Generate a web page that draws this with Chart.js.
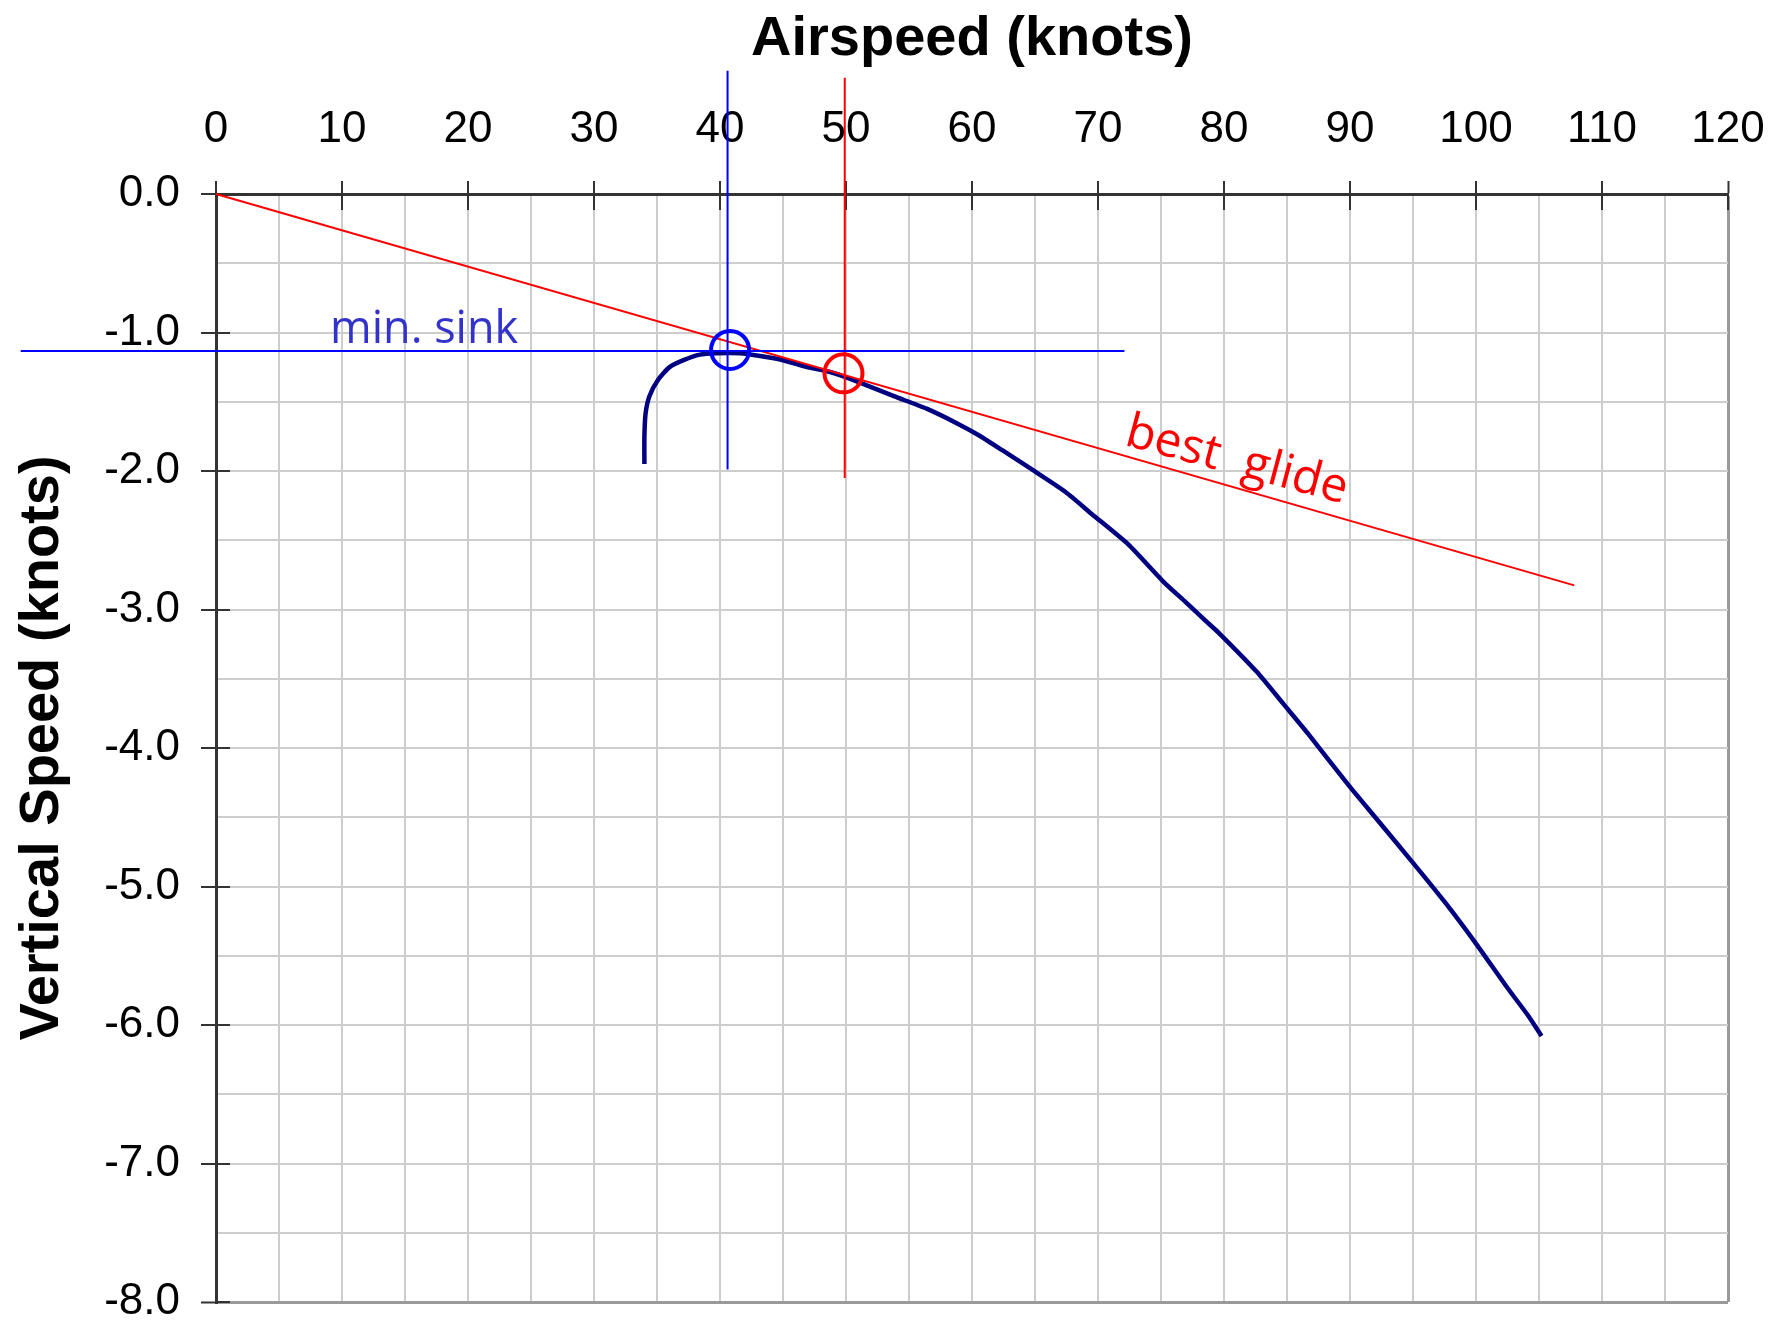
<!DOCTYPE html>
<html>
<head>
<meta charset="utf-8">
<title>Glider polar</title>
<script src="https://cdn.jsdelivr.net/npm/chart.js@4.4.1/dist/chart.umd.min.js"></script>
<style>
  html, body { margin: 0; padding: 0; background: #fff; }
  #wrap { width: 1789px; height: 1326px; position: relative; }
</style>
</head>
<body>
<div id="wrap"><canvas id="polarChart"></canvas></div>
<script>
// Polar curve (knots)
const airspeed = [34.0, 34.0, 34.1, 34.4, 35.1, 36.0, 37.1, 38.4, 39.7, 41.6,
                  43.2, 45.0, 46.9, 48.5, 49.9, 51.6, 53.8, 56.4, 58.9, 60.5,
                  62.4, 64.6, 67.4, 69.5, 72.4, 75.2, 77.0, 78.4, 79.6, 82.6,
                  84.7, 86.7, 89.9, 92.0, 95.1, 97.5, 99.9, 102.4, 104.2, 105.2];
const sinkRate = [-1.95, -1.75, -1.58, -1.46, -1.34, -1.25, -1.20, -1.16, -1.15, -1.15,
                  -1.17, -1.20, -1.25, -1.28, -1.32, -1.38, -1.46, -1.55, -1.66, -1.74,
                  -1.85, -1.98, -2.15, -2.31, -2.53, -2.80, -2.95, -3.07, -3.17, -3.45,
                  -3.68, -3.90, -4.27, -4.50, -4.84, -5.11, -5.40, -5.72, -5.94, -6.08];

// Axes
const xMin = 0, xMax = 120, xStep = 5, xLabelEvery = 10;
const yMin = -8, yMax = 0, yStep = 0.5;

// Min sink marks
const minSinkSpeed = 40.6;
const minSinkRate = -1.134;
const minSinkCircle = [40.8, -1.126];
const minSinkVSpan = [0.89, -1.99];    // vertical line, y from / to
const minSinkHSpan = [-15.5, 72.1];    // horizontal line, x from / to
const minSinkLabel = [9.05, -1.076];

// Best glide marks
const bestGlideSpeed = 49.9;
const bestGlideCircle = [49.8, -1.295];
const bestGlideVSpan = [0.84, -2.05];
const glideLineX = [0, 107.8];
const glideLineY = [0, -2.826];
const bestGlideLabel = [72.0, -1.81];

const curvePoints = airspeed.map((v, i) => ({ x: v, y: sinkRate[i] }));

function segment(x0, y0, x1, y1) {
    return [{ x: x0, y: y0 }, { x: x1, y: y1 }];
}

// Tick marks crossing the axes + labels
const extras = {
    id: 'extras',
    beforeDatasetsDraw(chart) {
        const { ctx, scales: { x, y }, chartArea } = chart;
        ctx.save();
        ctx.strokeStyle = '#333';
        ctx.lineWidth = 2;
        ctx.beginPath();
        for (let v = xMin; v <= xMax; v += xLabelEvery) {
            const px = Math.round(x.getPixelForValue(v));
            ctx.moveTo(px, chartArea.top);
            ctx.lineTo(px, chartArea.top + 16);
        }
        for (let v = yMax; v >= yMin; v -= 1) {
            const py = Math.round(y.getPixelForValue(v));
            ctx.moveTo(chartArea.left, py);
            ctx.lineTo(chartArea.left + 14, py);
        }
        ctx.stroke();
        ctx.restore();
    },
    afterDatasetsDraw(chart) {
        const { ctx, scales: { x, y } } = chart;
        ctx.save();
        ctx.font = '45px "Open Sans", "DejaVu Sans", sans-serif';
        ctx.fillStyle = '#3333cc';
        ctx.textBaseline = 'alphabetic';
        ctx.fillText('min. sink', x.getPixelForValue(minSinkLabel[0]), y.getPixelForValue(minSinkLabel[1]));

        ctx.translate(x.getPixelForValue(bestGlideLabel[0]), y.getPixelForValue(bestGlideLabel[1]));
        ctx.rotate(15 * Math.PI / 180);
        ctx.font = '48px "Open Sans", "DejaVu Sans", sans-serif';
        ctx.fillStyle = '#ff0000';
        ctx.fillText('best  glide', 0, 0);
        ctx.restore();
    }
};

const tickFont = { family: '"Liberation Sans", Arial, sans-serif', size: 44 };
const titleFont = { family: '"Liberation Sans", Arial, sans-serif', size: 56, weight: 'bold' };

new Chart(document.getElementById('polarChart'), {
    type: 'scatter',
    data: {
        datasets: [
            {
                label: 'min sink circle',
                data: [{ x: minSinkCircle[0], y: minSinkCircle[1] }],
                pointRadius: 19,
                pointBorderWidth: 4,
                pointBorderColor: '#0000ff',
                pointBackgroundColor: 'rgba(0,0,0,0)',
                showLine: false
            },
            {
                label: 'best glide circle',
                data: [{ x: bestGlideCircle[0], y: bestGlideCircle[1] }],
                pointRadius: 19,
                pointBorderWidth: 4,
                pointBorderColor: '#ff0000',
                pointBackgroundColor: 'rgba(0,0,0,0)',
                showLine: false
            },
            {
                label: 'min sink h',
                data: segment(minSinkHSpan[0], minSinkRate, minSinkHSpan[1], minSinkRate),
                showLine: true, borderColor: '#0000ff', borderWidth: 2,
                pointRadius: 0, clip: false
            },
            {
                label: 'min sink v',
                data: segment(minSinkSpeed, minSinkVSpan[0], minSinkSpeed, minSinkVSpan[1]),
                showLine: true, borderColor: '#0000ff', borderWidth: 2,
                pointRadius: 0, clip: false
            },
            {
                label: 'best glide v',
                data: segment(bestGlideSpeed, bestGlideVSpan[0], bestGlideSpeed, bestGlideVSpan[1]),
                showLine: true, borderColor: '#ff0000', borderWidth: 2,
                pointRadius: 0, clip: false
            },
            {
                label: 'glide tangent',
                data: segment(glideLineX[0], glideLineY[0], glideLineX[1], glideLineY[1]),
                showLine: true, borderColor: '#ff0000', borderWidth: 2,
                pointRadius: 0, clip: false
            },
            {
                label: 'polar',
                data: curvePoints,
                showLine: true,
                borderColor: '#000080',
                borderWidth: 4.5,
                tension: 0.2,
                pointRadius: 0
            }
        ]
    },
    options: {
        responsive: true,
        maintainAspectRatio: false,
        animation: false,
        events: [],
        layout: { padding: { left: 0, top: 0, right: 61, bottom: 24 } },
        plugins: {
            legend: { display: false },
            tooltip: { enabled: false }
        },
        scales: {
            x: {
                type: 'linear',
                position: 'top',
                min: xMin,
                max: xMax,
                afterFit: (scale) => {
                    scale.height = 194;
                    scale.paddingLeft = 0;
                    scale.paddingRight = 0;
                },
                ticks: {
                    stepSize: xStep,
                    autoSkip: false,
                    maxRotation: 0,
                    padding: 25,
                    color: '#000',
                    font: tickFont,
                    callback: (v) => (v % xLabelEvery === 0 ? String(v) : '')
                },
                grid: {
                    color: (c) => (c.tick && c.tick.value === xMax ? '#9a9a9a' : '#cdcdcd'),
                    lineWidth: (c) => (c.tick && c.tick.value === xMax ? 3 : 2),
                    tickColor: (c) => (c.tick && c.tick.value % xLabelEvery === 0 ? '#333' : 'rgba(0,0,0,0)'),
                    tickLength: 13,
                    tickWidth: 2
                },
                border: { color: '#333', width: 3 },
                title: {
                    display: true,
                    text: 'Airspeed (knots)',
                    color: '#000',
                    font: titleFont,
                    padding: { top: 6, bottom: 0 }
                }
            },
            y: {
                type: 'linear',
                position: 'left',
                min: yMin,
                max: yMax,
                afterFit: (scale) => {
                    scale.width = 216;
                    scale.paddingTop = 0;
                    scale.paddingBottom = 0;
                },
                ticks: {
                    stepSize: yStep,
                    autoSkip: false,
                    padding: 21,
                    color: '#000',
                    font: tickFont,
                    callback: (v) => (Number.isInteger(v) ? v.toFixed(1) : '')
                },
                grid: {
                    color: (c) => (c.tick && c.tick.value === yMin ? '#9a9a9a' : '#cdcdcd'),
                    lineWidth: (c) => (c.tick && c.tick.value === yMin ? 3 : 2),
                    tickColor: (c) => (c.tick && Number.isInteger(c.tick.value) ? '#333' : 'rgba(0,0,0,0)'),
                    tickLength: 15,
                    tickWidth: 2
                },
                border: { color: '#333', width: 3 },
                title: {
                    display: true,
                    text: 'Vertical Speed (knots)',
                    color: '#000',
                    font: titleFont,
                    padding: { top: 9, bottom: 0 }
                }
            }
        }
    },
    plugins: [extras]
});
</script>
</body>
</html>
